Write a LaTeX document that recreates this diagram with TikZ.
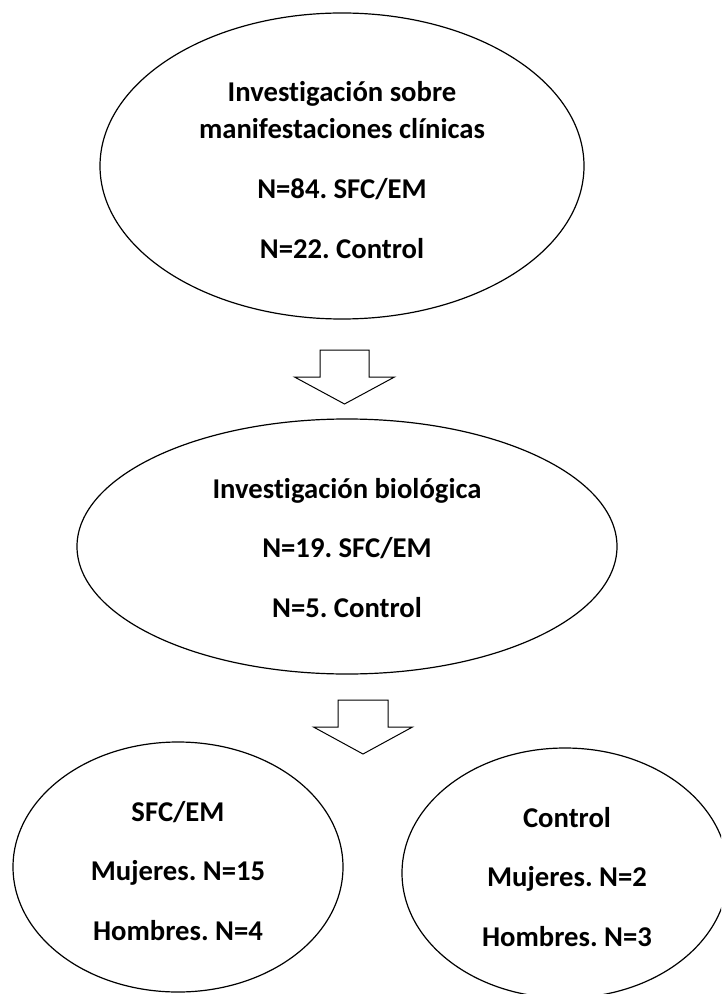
\documentclass[tikz,border=0pt]{standalone}
\usepackage{fontspec}
\setmainfont[Ligatures=NoCommon]{Carlito}
\frenchspacing
\usepackage{tikz}
\usetikzlibrary{shapes.geometric}

\begin{document}
\begin{tikzpicture}[x=0.75pt,y=-0.75pt,
      oval style/.style={ellipse,draw=black,line width=0.9pt,inner sep=0pt},
      txt style/.style={align=center,font=\bfseries\fontsize{21.5}{27.75}\selectfont},
      block style/.style={draw=black,line width=0.75pt,fill=white,line join=miter}
      ]
      \clip (0,0) rectangle (721,994);
      % ellipses
      \node[oval style,minimum width=363pt,minimum height=229.5pt] (clin) at (342,166) {};
      \node[oval style,minimum width=405pt,minimum height=191.25pt] (bio) at (347,546.5) {};
      \node[oval style,minimum width=247.5pt,minimum height=187.5pt] (sfc) at (178,867) {};
      \node[oval style,minimum width=244.5pt,minimum height=187.5pt] (ctrl) at (565,873) {};
      % texts
      \node[txt style] (clintxt) at (342,170) {Investigación sobre\\manifestaciones clínicas\\[17pt]N=84. SFC/EM\\[17pt]N=22. Control};
      \node[txt style] (biotxt) at (347,548) {Investigación biológica\\[17pt]N=19. SFC/EM\\[17pt]N=5. Control};
      \node[txt style] (sfctxt) at (178,871) {SFC/EM\\[17pt]Mujeres. N=15\\[17pt]Hombres. N=4};
      \node[txt style] (ctrltxt) at (567,877) {Control\\[17pt]Mujeres. N=2\\[17pt]Hombres. N=3};
      % block arrows
      \coordinate (arr1) at (344.5,350);
      \coordinate (arr2) at (363,700);
      \draw[block style] (arr1) ++(-24.5,0) -- ++(49,0) -- ++(0,27) -- ++(25.5,0)
        -- ++(-50,27) -- ++(-50,-27) -- ++(25.5,0) -- cycle;
      \draw[block style] (arr2) ++(-25,0) -- ++(50,0) -- ++(0,27) -- ++(24.5,0)
        -- ++(-49.5,27) -- ++(-49.5,-27) -- ++(24.5,0) -- cycle;
    \end{tikzpicture}
\end{document}
